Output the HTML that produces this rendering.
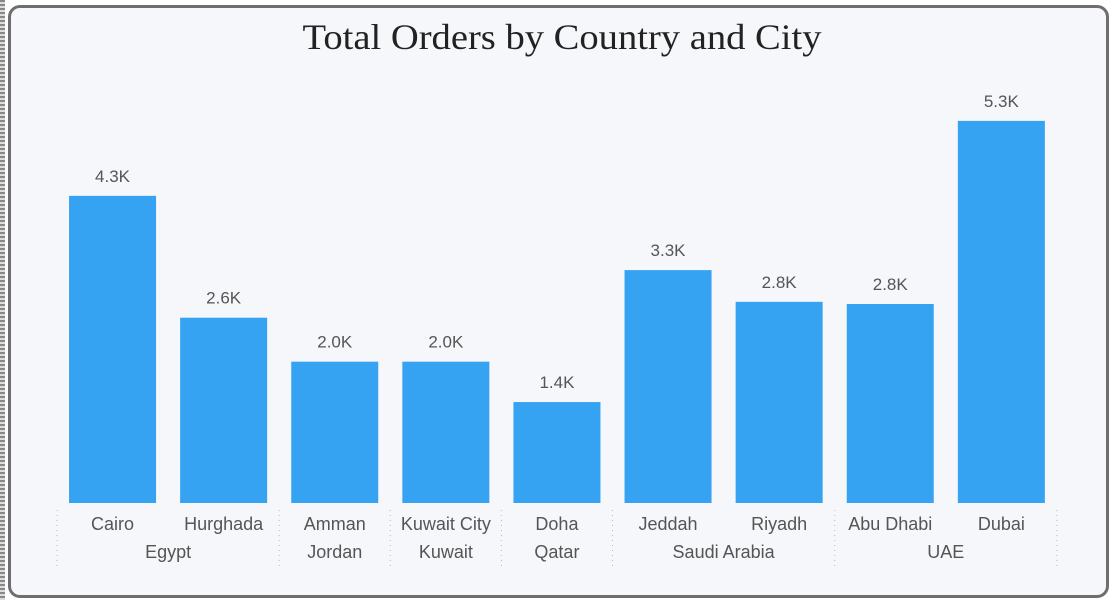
<!DOCTYPE html>
<html><head><meta charset="utf-8"><style>
body{margin:0;width:1117px;height:600px;background:#fff;overflow:hidden;font-family:"Liberation Sans","DejaVu Sans",sans-serif}
#strip{position:absolute;left:0;top:0;width:5px;height:600px;background:repeating-linear-gradient(#888 0 2px,#ddd 2px 4px)}
#card{position:absolute;left:8px;top:5px;width:1095px;height:587px;border:3px solid #6e6e6e;border-radius:12px;background:#f5f7fa}
</style></head><body>
<div id="strip"></div>
<div id="card"></div>
<svg id="chart" width="1117" height="600" style="position:absolute;left:0;top:0">
<text x="562" y="49" text-anchor="middle" font-family="Liberation Serif,serif" font-size="36" textLength="519" lengthAdjust="spacingAndGlyphs" fill="#222">Total Orders by Country and City</text>
</svg>
<script>
const cities=["Cairo","Hurghada","Amman","Kuwait City","Doha","Jeddah","Riyadh","Abu Dhabi","Dubai"];
const values=[4.26,2.57,1.96,1.96,1.40,3.23,2.79,2.76,5.30];
const valueLabels=["4.3K","2.6K","2.0K","2.0K","1.4K","3.3K","2.8K","2.8K","5.3K"];
const countries=["Egypt","Jordan","Kuwait","Qatar","Saudi Arabia","UAE"];
const countrySizes=[2,1,1,1,2,2];
const svg=document.getElementById('chart');const NS='http://www.w3.org/2000/svg';
const base=503,scale=72.1,x0=57,step=111.1,bw=87;
const y=v=>base-v*scale;const xc=i=>x0+step*(i+0.5);
function mk(t,a){const e=document.createElementNS(NS,t);for(const k in a)e.setAttribute(k,a[k]);svg.appendChild(e);return e;}
cities.forEach((c,i)=>{
 const r=mk('rect',{x:xc(i)-bw/2,y:y(values[i]),width:bw,height:base-y(values[i]),fill:'#36a2f2'});
 
 
 const t=mk('text',{x:xc(i),y:y(values[i])-14,'text-anchor':'middle','font-size':17,fill:'#555'});t.textContent=valueLabels[i];
 
 
 const l=mk('text',{x:xc(i),y:530,'text-anchor':'middle','font-size':18,fill:'#555'});l.textContent=c;
 
 
});
let idx=0;
const sepAt=i=>{const s=mk('line',{x1:x0+step*i,x2:x0+step*i,y1:510,y2:568,stroke:'#bbb','stroke-dasharray':'1 4'});
 
 };
sepAt(0);
countries.forEach((c,k)=>{
 const mid=x0+step*(idx+countrySizes[k]/2);
 const t=mk('text',{x:mid,y:558,'text-anchor':'middle','font-size':18,fill:'#555'});t.textContent=c;
 
 
 idx+=countrySizes[k];sepAt(idx);
});
</script>
</body></html>
